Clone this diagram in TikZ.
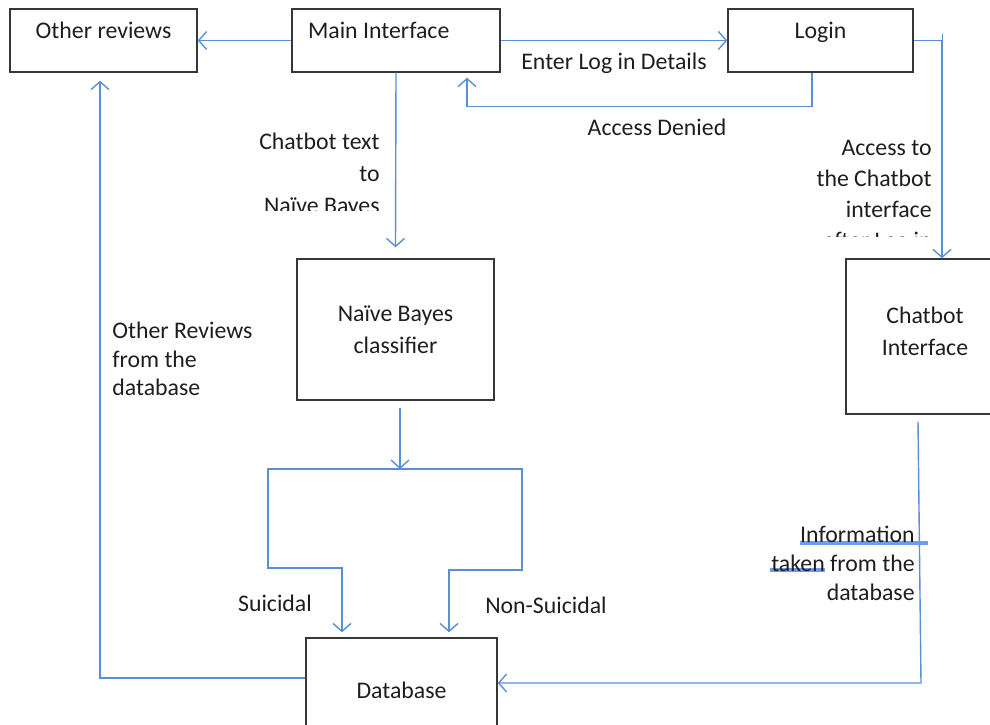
\documentclass[tikz,border=0pt]{standalone}
\usepackage{fontspec}
\setmainfont{Carlito}
\usetikzlibrary{arrows.meta,calc}
\definecolor{flowblue}{RGB}{91,143,212}
\definecolor{markblue}{RGB}{110,155,235}
\definecolor{boxgray}{RGB}{55,55,55}
\definecolor{txt}{RGB}{30,30,30}
\begin{document}
\begin{tikzpicture}[x=0.5pt,y=-0.5pt,
  box/.style={draw=boxgray,line width=0.7pt,align=center,inner sep=0pt,text=txt,font=\fontsize{11.9}{16}\selectfont},
  topbox/.style={box,minimum height=31.5pt,text height=9pt,text depth=11.5pt},
  flow/.style={draw=flowblue,line width=0.7pt,-{Straight Barb[length=4pt,width=9pt]}},
  lbl/.style={text=txt,inner sep=0pt,font=\fontsize{11.9}{16}\selectfont}]
  \useasboundingbox (0,0) rectangle (990,724);
  \clip (0,0) rectangle (990,724);

  % boxes
  \node[topbox,minimum width=93.5pt] (oth) at (103.5,40.5) {Other reviews};
  \node[topbox,minimum width=104pt] (main) at (396,40.5) {\makebox[88pt][l]{Main Interface}};
  \node[topbox,minimum width=92.5pt] (login) at (820.5,40.5) {Login};
  \node[box,minimum width=98.5pt,minimum height=70.5pt] (nb) at (395.5,329.5) {Naïve Bayes\\classifier};
  \node[box,minimum width=79pt,minimum height=77.5pt,text depth=5pt] (chat) at (925,336.5) {Chatbot\\Interface};
  \node[box,minimum width=95.5pt,minimum height=52pt] (db) at (401.5,690) {Database};

  % top row
  \draw[flow] (main.west) -- (oth.east);
  \draw[flow] (main.east) -- (login.west) node[lbl,midway,below=6pt] (eld) {Enter Log in Details};
  \draw[flow] ($(login.south)+(-8.5,0)$) |- ($(main.south)+(71,34)$) -- ($(main.south)+(71,5)$);
  \node[lbl] (den) at (657,127) {Access Denied};

  % login to chatbot
  \draw[flow] (login.east) -| ($(chat.north)+(17,0)$);
  \draw[draw=flowblue,line width=0.7pt] ($(login.east)+(29,-7)$) -- ++(0,7);
  \begin{scope}
    \clip (700,120) rectangle (945,236);
    \node[lbl,align=right,anchor=east,font=\fontsize{11.9}{15.5}\selectfont] (acc) at (932,196) {Access to\\the Chatbot\\interface\\after Log in};
  \end{scope}

  % main to classifier
  \draw[flow] (main.south) -- ($(nb.north)+(0,-11)$);
  \begin{scope}
    \clip (200,120) rectangle (386,210);
    \node[lbl,align=right,anchor=east] (cbt) at (380,175) {Chatbot text\\to\\Naïve Bayes};
  \end{scope}

  % classifier to database
  \coordinate (split) at (400,469);
  \draw[flow] ($(nb.south)+(4.5,7)$) -- (split);
  \draw[flow] (split) -| (268,568) -| ($(db.north)+(-59.5,-5)$);
  \draw[flow] (split) -| (522,570) -| ($(db.north)+(47.5,-5)$);
  \node[lbl] (sui) at (275,603) {Suicidal};
  \node[lbl] (nsui) at (546,605) {Non-Suicidal};

  % database to other reviews
  \draw[flow] ($(db.west)+(0,-12)$) -| ($(oth.south)+(-3.5,8)$);
  \node[lbl,align=left,anchor=west,font=\fontsize{11.9}{14.25}\selectfont] (orv) at (112,359) {Other Reviews\\from the\\database};

  % chatbot to database
  \coordinate (cor) at (921,683);
  \draw[flow] ($(chat.south)+(-7,7)$) -- (cor) -- ($(db.east)+(0,-7)$);
  \draw[markblue,line width=2pt] (800,543) -- (928,543);
  \draw[markblue,line width=2pt] (770,570) -- (825,570);
  \node[lbl,align=right,anchor=east,font=\fontsize{11.9}{14.5}\selectfont] (inf) at (915,563) {Information\\taken from the\\database};
\end{tikzpicture}
\end{document}
